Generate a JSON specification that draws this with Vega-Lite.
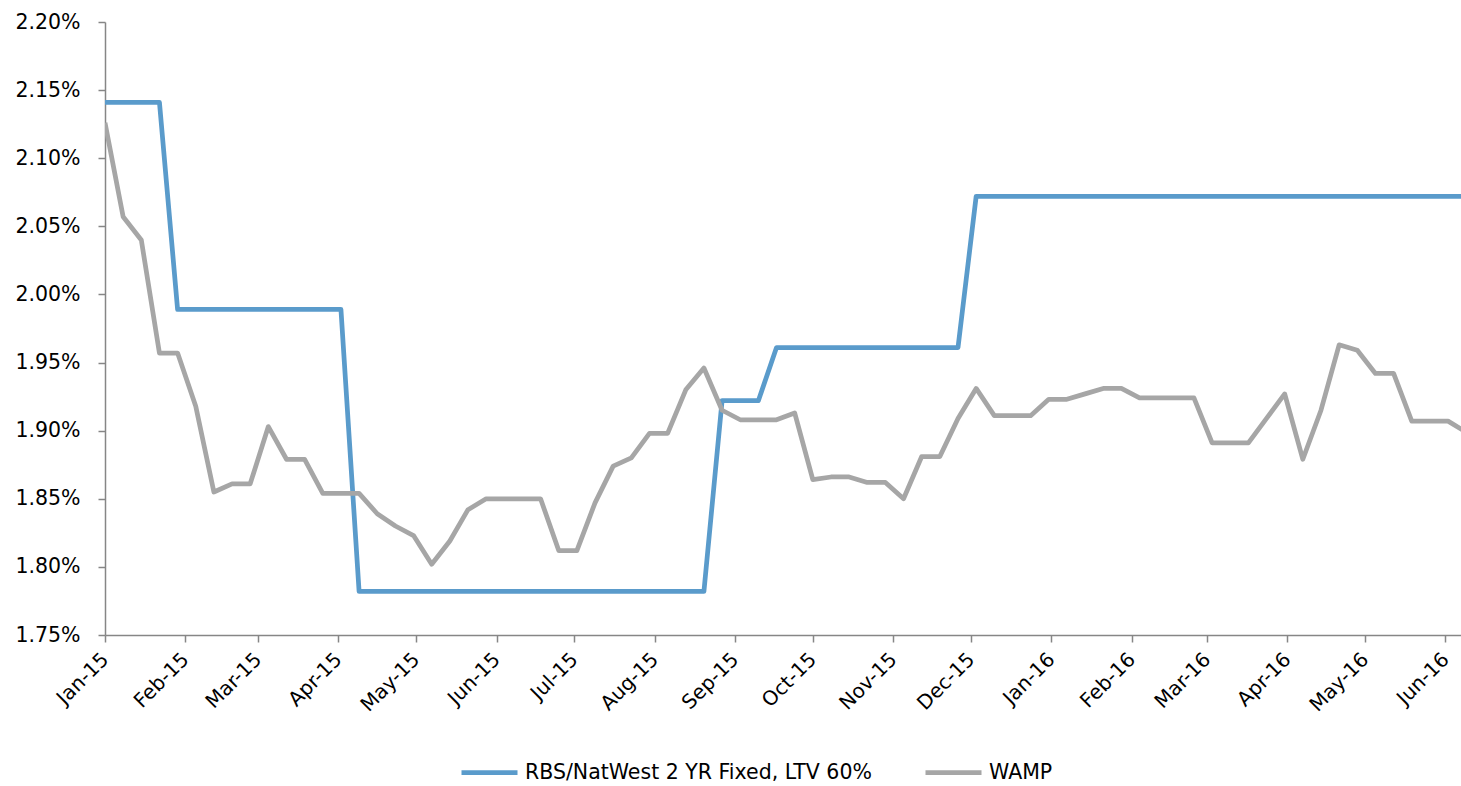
{
  "$schema": "https://vega.github.io/schema/vega-lite/v6.json",
  "width": 1356,
  "height": 613,
  "autosize": {"type": "none"},
  "padding": {"left": 105, "top": 22, "right": 0, "bottom": 151},
  "background": "white",
  "config": {
    "view": {"stroke": null},
    "font": "DejaVu Sans",
    "axis": {
      "grid": false,
      "domainColor": "#868686",
      "domainWidth": 1.5,
      "tickColor": "#868686",
      "tickWidth": 1.5,
      "tickSize": 7,
      "labelColor": "#000000",
      "labelFont": "DejaVu Sans",
      "labelFontSize": 20.5,
      "title": null
    }
  },
  "datasets": {
    "rates": [
      {"date": "2015-01-01", "rbs": 2.141, "wamp": 2.126},
      {"date": "2015-01-08", "rbs": 2.141, "wamp": 2.057},
      {"date": "2015-01-15", "rbs": 2.141, "wamp": 2.040},
      {"date": "2015-01-22", "rbs": 2.141, "wamp": 1.957},
      {"date": "2015-01-29", "rbs": 1.989, "wamp": 1.957},
      {"date": "2015-02-05", "rbs": 1.989, "wamp": 1.918},
      {"date": "2015-02-12", "rbs": 1.989, "wamp": 1.855},
      {"date": "2015-02-19", "rbs": 1.989, "wamp": 1.861},
      {"date": "2015-02-26", "rbs": 1.989, "wamp": 1.861},
      {"date": "2015-03-05", "rbs": 1.989, "wamp": 1.903},
      {"date": "2015-03-12", "rbs": 1.989, "wamp": 1.879},
      {"date": "2015-03-19", "rbs": 1.989, "wamp": 1.879},
      {"date": "2015-03-26", "rbs": 1.989, "wamp": 1.854},
      {"date": "2015-04-02", "rbs": 1.989, "wamp": 1.854},
      {"date": "2015-04-09", "rbs": 1.782, "wamp": 1.854},
      {"date": "2015-04-16", "rbs": 1.782, "wamp": 1.839},
      {"date": "2015-04-23", "rbs": 1.782, "wamp": 1.830},
      {"date": "2015-04-30", "rbs": 1.782, "wamp": 1.823},
      {"date": "2015-05-07", "rbs": 1.782, "wamp": 1.802},
      {"date": "2015-05-14", "rbs": 1.782, "wamp": 1.819},
      {"date": "2015-05-21", "rbs": 1.782, "wamp": 1.842},
      {"date": "2015-05-28", "rbs": 1.782, "wamp": 1.850},
      {"date": "2015-06-04", "rbs": 1.782, "wamp": 1.850},
      {"date": "2015-06-11", "rbs": 1.782, "wamp": 1.850},
      {"date": "2015-06-18", "rbs": 1.782, "wamp": 1.850},
      {"date": "2015-06-25", "rbs": 1.782, "wamp": 1.812},
      {"date": "2015-07-02", "rbs": 1.782, "wamp": 1.812},
      {"date": "2015-07-09", "rbs": 1.782, "wamp": 1.847},
      {"date": "2015-07-16", "rbs": 1.782, "wamp": 1.874},
      {"date": "2015-07-23", "rbs": 1.782, "wamp": 1.880},
      {"date": "2015-07-30", "rbs": 1.782, "wamp": 1.898},
      {"date": "2015-08-06", "rbs": 1.782, "wamp": 1.898},
      {"date": "2015-08-13", "rbs": 1.782, "wamp": 1.930},
      {"date": "2015-08-20", "rbs": 1.782, "wamp": 1.946},
      {"date": "2015-08-27", "rbs": 1.922, "wamp": 1.915},
      {"date": "2015-09-03", "rbs": 1.922, "wamp": 1.908},
      {"date": "2015-09-10", "rbs": 1.922, "wamp": 1.908},
      {"date": "2015-09-17", "rbs": 1.961, "wamp": 1.908},
      {"date": "2015-09-24", "rbs": 1.961, "wamp": 1.913},
      {"date": "2015-10-01", "rbs": 1.961, "wamp": 1.864},
      {"date": "2015-10-08", "rbs": 1.961, "wamp": 1.866},
      {"date": "2015-10-15", "rbs": 1.961, "wamp": 1.866},
      {"date": "2015-10-22", "rbs": 1.961, "wamp": 1.862},
      {"date": "2015-10-29", "rbs": 1.961, "wamp": 1.862},
      {"date": "2015-11-05", "rbs": 1.961, "wamp": 1.850},
      {"date": "2015-11-12", "rbs": 1.961, "wamp": 1.881},
      {"date": "2015-11-19", "rbs": 1.961, "wamp": 1.881},
      {"date": "2015-11-26", "rbs": 1.961, "wamp": 1.909},
      {"date": "2015-12-03", "rbs": 2.072, "wamp": 1.931},
      {"date": "2015-12-10", "rbs": 2.072, "wamp": 1.911},
      {"date": "2015-12-17", "rbs": 2.072, "wamp": 1.911},
      {"date": "2015-12-24", "rbs": 2.072, "wamp": 1.911},
      {"date": "2015-12-31", "rbs": 2.072, "wamp": 1.923},
      {"date": "2016-01-07", "rbs": 2.072, "wamp": 1.923},
      {"date": "2016-01-14", "rbs": 2.072, "wamp": 1.927},
      {"date": "2016-01-21", "rbs": 2.072, "wamp": 1.931},
      {"date": "2016-01-28", "rbs": 2.072, "wamp": 1.931},
      {"date": "2016-02-04", "rbs": 2.072, "wamp": 1.924},
      {"date": "2016-02-11", "rbs": 2.072, "wamp": 1.924},
      {"date": "2016-02-18", "rbs": 2.072, "wamp": 1.924},
      {"date": "2016-02-25", "rbs": 2.072, "wamp": 1.924},
      {"date": "2016-03-03", "rbs": 2.072, "wamp": 1.891},
      {"date": "2016-03-10", "rbs": 2.072, "wamp": 1.891},
      {"date": "2016-03-17", "rbs": 2.072, "wamp": 1.891},
      {"date": "2016-03-24", "rbs": 2.072, "wamp": 1.909},
      {"date": "2016-03-31", "rbs": 2.072, "wamp": 1.927},
      {"date": "2016-04-07", "rbs": 2.072, "wamp": 1.879},
      {"date": "2016-04-14", "rbs": 2.072, "wamp": 1.915},
      {"date": "2016-04-21", "rbs": 2.072, "wamp": 1.963},
      {"date": "2016-04-28", "rbs": 2.072, "wamp": 1.959},
      {"date": "2016-05-05", "rbs": 2.072, "wamp": 1.942},
      {"date": "2016-05-12", "rbs": 2.072, "wamp": 1.942},
      {"date": "2016-05-19", "rbs": 2.072, "wamp": 1.907},
      {"date": "2016-05-26", "rbs": 2.072, "wamp": 1.907},
      {"date": "2016-06-02", "rbs": 2.072, "wamp": 1.907},
      {"date": "2016-06-09", "rbs": 2.072, "wamp": 1.899}
    ]
  },
  "data": {"name": "rates"},
  "transform": [
    {"fold": ["rbs", "wamp"], "as": ["key", "rate"]},
    {"lookup": "key", "from": {"data": {"values": [
      {"key": "rbs", "series": "RBS/NatWest 2 YR Fixed, LTV 60%"},
      {"key": "wamp", "series": "WAMP"}
    ]}, "key": "key", "fields": ["series"]}}
  ],
  "mark": {"type": "line", "strokeWidth": 4.75, "strokeJoin": "round", "clip": true},
  "encoding": {
    "x": {
      "field": "date",
      "type": "temporal",
      "scale": {
        "type": "utc",
        "domain": [
          {"year": 2015, "month": 1, "date": 1, "utc": true},
          {"year": 2016, "month": 6, "date": 7, "utc": true}
        ]
      },
      "axis": {
        "tickCount": {"interval": "month", "step": 1},
        "labelExpr": "utcFormat(datum.value, '%b-%y')",
        "labelAngle": -45,
        "labelAlign": "right",
        "labelBaseline": "middle",
        "labelPadding": 14,
        "labelFontSize": 20,
        "labelOverlap": false
      }
    },
    "y": {
      "field": "rate",
      "type": "quantitative",
      "scale": {"domain": [1.75, 2.2], "nice": false, "zero": false},
      "axis": {
        "values": [1.75, 1.8, 1.85, 1.9, 1.95, 2.0, 2.05, 2.1, 2.15, 2.2],
        "labelExpr": "format(datum.value, '.2f') + '%'",
        "labelPadding": 18
      }
    },
    "color": {
      "field": "series",
      "type": "nominal",
      "scale": {
        "domain": ["RBS/NatWest 2 YR Fixed, LTV 60%", "WAMP"],
        "range": ["#5A9BCB", "#A6A6A6"]
      },
      "legend": {
        "title": null,
        "orient": "none",
        "direction": "horizontal",
        "legendX": 354,
        "legendY": 720,
        "symbolType": "stroke",
        "symbolSize": 3136,
        "symbolStrokeWidth": 4.75,
        "labelFont": "DejaVu Sans",
        "labelFontSize": 20.5,
        "labelLimit": 0,
        "labelColor": "#000000",
        "labelOffset": 5,
        "columnPadding": 44
      }
    }
  }
}
